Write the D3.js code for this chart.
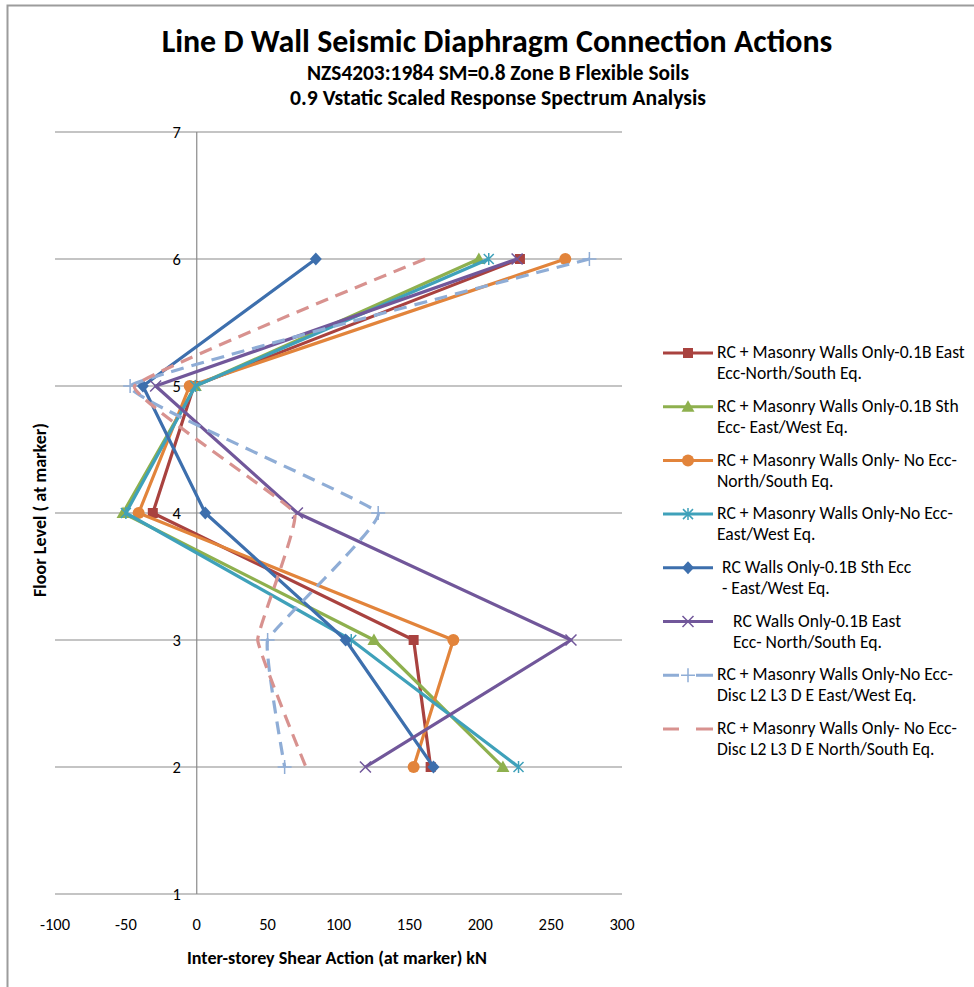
<!DOCTYPE html>
<html>
<head>
<meta charset="utf-8">
<script src="https://cdn.jsdelivr.net/npm/d3@7"></script>
<style>
  html, body { margin: 0; padding: 0; background: #fff; }
  svg text { font-family: Carlito, Lato, "Liberation Sans", sans-serif; fill: #000; }
</style>
</head>
<body>
<svg id="chart" width="974" height="987"></svg>
<script>
// Floor levels at which each inter-storey shear is reported
const floors = [6, 5, 4, 3, 2];

// Inter-storey shear action (kN) per series, listed in the same order as floors
const rcMasEastEccNS   = [228, -2, -31, 153, 165];
const rcMasSthEccEW    = [199, -1, -52, 125, 216];
const rcMasNoEccNS     = [260, -5, -41, 181, 153];
const rcMasNoEccEW     = [206, -1, -50, 109, 227];
const rcSthEccEW       = [84, -38, 6, 105, 167];
const rcEastEccNS      = [226, -29, 71, 264, 119];
const rcMasDiscEW      = [277, -47, 128, 50, 62];
const rcMasDiscNS      = [161, -44, 69, 43, 77];

// Legend labels (two lines each)
const seriesLabels = [
  ["RC + Masonry Walls Only-0.1B East", "Ecc-North/South Eq."],
  ["RC + Masonry Walls Only-0.1B Sth", "Ecc- East/West Eq."],
  ["RC + Masonry Walls Only- No Ecc-", "North/South Eq."],
  ["RC + Masonry Walls Only-No Ecc-", "East/West Eq."],
  ["RC Walls Only-0.1B Sth Ecc", "- East/West Eq."],
  ["RC Walls Only-0.1B East", "Ecc- North/South Eq."],
  ["RC + Masonry Walls Only-No Ecc-", "Disc L2 L3 D E East/West Eq."],
  ["RC + Masonry Walls Only- No Ecc-", "Disc L2 L3 D E North/South Eq."]
];

// Axis ticks
const xTicks = [-100, -50, 0, 50, 100, 150, 200, 250, 300];
const yTicks = [1, 2, 3, 4, 5, 6, 7];

const titleText = "Line D Wall Seismic Diaphragm Connection Actions";
const subtitleLines = ["NZS4203:1984 SM=0.8 Zone B Flexible Soils",
                       "0.9 Vstatic Scaled Response Spectrum Analysis"];
const xTitle = "Inter-storey Shear Action (at marker)  kN";
const yTitle = "Floor Level ( at marker)";

// Series styling
const seriesValues = [rcMasEastEccNS, rcMasSthEccEW, rcMasNoEccNS, rcMasNoEccEW,
                      rcSthEccEW, rcEastEccNS, rcMasDiscEW, rcMasDiscNS];
const styles = [
  { color: "#A9423F", marker: "square" },
  { color: "#8EB04E", marker: "triangle" },
  { color: "#E2843B", marker: "circle" },
  { color: "#3FA1BA", marker: "asterisk" },
  { color: "#3D6FAD", marker: "diamond" },
  { color: "#71579A", marker: "x" },
  { color: "#8FADD6", marker: "plus", dash: "13 8", smooth: true },
  { color: "#D8928F", marker: null, dash: "13 8", smooth: true }
];
const legendTextIndent = [0, 0, 0, 0, 5, 16, 0, 0];

const svg = d3.select("#chart");

// Scale a text element's font size so that it spans the given width
function fitWidth(sel, width) {
  const node = sel.node();
  const size = parseFloat(sel.attr("font-size"));
  const w = node.getComputedTextLength();
  const ns = size * width / w;
  sel.attr("font-size", ns);
  return ns;
}

// Chart frame
svg.append("path")
  .attr("d", "M7.5,987 V5.5 H974")
  .attr("fill", "none")
  .attr("stroke", "#9c9c9c")
  .attr("stroke-width", 2);

const x = d3.scaleLinear().domain([-100, 300]).range([55, 622]);
const y = d3.scaleLinear().domain([1, 7]).range([894, 132]);

// Horizontal gridlines
svg.append("g").selectAll("line").data(yTicks).join("line")
  .attr("x1", x(-100)).attr("x2", x(300))
  .attr("y1", d => y(d)).attr("y2", d => y(d))
  .attr("stroke", "#8a8a8a").attr("stroke-width", 1.2);

// Vertical axis at zero
svg.append("line")
  .attr("x1", x(0)).attr("x2", x(0))
  .attr("y1", y(7)).attr("y2", y(1))
  .attr("stroke", "#8a8a8a").attr("stroke-width", 1.2);

// Y tick labels
svg.append("g").selectAll("text").data(yTicks).join("text")
  .attr("x", x(0) - 16).attr("y", d => y(d) + 2)
  .attr("text-anchor", "end").attr("dominant-baseline", "middle")
  .attr("font-size", 16.5)
  .text(d => d);

// X tick labels
svg.append("g").selectAll("text").data(xTicks).join("text")
  .attr("x", d => x(d)).attr("y", 926)
  .attr("text-anchor", "middle").attr("dominant-baseline", "middle")
  .attr("font-size", 16.5)
  .text(d => d);

// Titles
const title = svg.append("text").attr("x", 497).attr("y", 52)
  .attr("text-anchor", "middle").attr("font-size", 30).attr("font-weight", "bold")
  .text(titleText);
fitWidth(title, 671);
const subWidths = [382, 416];
svg.selectAll("text.sub").data(subtitleLines).join("text").attr("class", "sub")
  .attr("x", 498).attr("y", (d, i) => 80 + i * 25)
  .attr("text-anchor", "middle").attr("font-size", 17).attr("font-weight", "bold")
  .text(d => d)
  .each(function (d, i) { fitWidth(d3.select(this), subWidths[i]); });
const xt = svg.append("text").attr("x", 337).attr("y", 964)
  .attr("text-anchor", "middle").attr("font-size", 14).attr("font-weight", "bold")
  .text(xTitle);
fitWidth(xt, 300);
const yt = svg.append("text")
  .attr("transform", "translate(46,510) rotate(-90)")
  .attr("text-anchor", "middle").attr("font-size", 14).attr("font-weight", "bold")
  .text(yTitle);
fitWidth(yt, 174);

// Marker drawing
function drawMarker(g, type, color, cx, cy) {
  const s = 5;
  if (type === "square") {
    g.append("rect").attr("x", cx - s).attr("y", cy - s).attr("width", 2 * s).attr("height", 2 * s)
      .attr("fill", color);
  } else if (type === "triangle") {
    g.append("path").attr("d", `M${cx},${cy - 6.5} L${cx + 6.5},${cy + 5} L${cx - 6.5},${cy + 5} Z`)
      .attr("fill", color);
  } else if (type === "circle") {
    g.append("circle").attr("cx", cx).attr("cy", cy).attr("r", 6).attr("fill", color);
  } else if (type === "diamond") {
    g.append("path").attr("d", `M${cx},${cy - 6.5} L${cx + 6},${cy} L${cx},${cy + 6.5} L${cx - 6},${cy} Z`)
      .attr("fill", color);
  } else if (type === "asterisk") {
    g.append("path")
      .attr("d", `M${cx},${cy - 6} V${cy + 6} M${cx - 5},${cy - 5} L${cx + 5},${cy + 5} M${cx + 5},${cy - 5} L${cx - 5},${cy + 5}`)
      .attr("stroke", color).attr("stroke-width", 1.5).attr("fill", "none");
  } else if (type === "x") {
    g.append("path")
      .attr("d", `M${cx - 5.5},${cy - 5.5} L${cx + 5.5},${cy + 5.5} M${cx + 5.5},${cy - 5.5} L${cx - 5.5},${cy + 5.5}`)
      .attr("stroke", color).attr("stroke-width", 1.5).attr("fill", "none");
  } else if (type === "plus") {
    g.append("path")
      .attr("d", `M${cx},${cy - 7} V${cy + 7} M${cx - 7},${cy} H${cx + 7}`)
      .attr("stroke", color).attr("stroke-width", 1.5).attr("fill", "none");
  }
}

// Series lines and markers
const plot = svg.append("g");
seriesValues.forEach((vals, i) => {
  const st = styles[i];
  const pts = vals.map((v, k) => [x(v), y(floors[k])]);
  const line = d3.line().curve(st.smooth ? d3.curveCardinal.tension(0.75) : d3.curveLinear);
  const g = plot.append("g");
  g.append("path")
    .attr("d", line(pts))
    .attr("fill", "none")
    .attr("stroke", st.color)
    .attr("stroke-width", 3.2)
    .attr("stroke-linejoin", "round")
    .attr("stroke-dasharray", st.dash || null);
  if (st.marker) pts.forEach(p => drawMarker(g, st.marker, st.color, p[0], p[1]));
});

// Legend
const legend = svg.append("g");
let legendFont = null;
seriesLabels.forEach((lab, i) => {
  const st = styles[i];
  const ly = 353 + i * 53.7;
  const g = legend.append("g");
  if (st.dash) {
    g.append("path").attr("d", `M663,${ly} H679 M696,${ly} H713`)
      .attr("stroke", st.color).attr("stroke-width", 3).attr("fill", "none");
  } else {
    g.append("line").attr("x1", 663).attr("x2", 713).attr("y1", ly).attr("y2", ly)
      .attr("stroke", st.color).attr("stroke-width", 3);
  }
  if (st.marker) drawMarker(g, st.marker, st.color, 688, ly);
  lab.forEach((t, k) => {
    const txt = g.append("text")
      .attr("x", 717 + legendTextIndent[i]).attr("y", ly + k * 21 + 1)
      .attr("dominant-baseline", "middle")
      .attr("font-size", legendFont || 14)
      .text(t);
    if (legendFont === null) legendFont = fitWidth(txt, 248);
  });
});
</script>
</body>
</html>
